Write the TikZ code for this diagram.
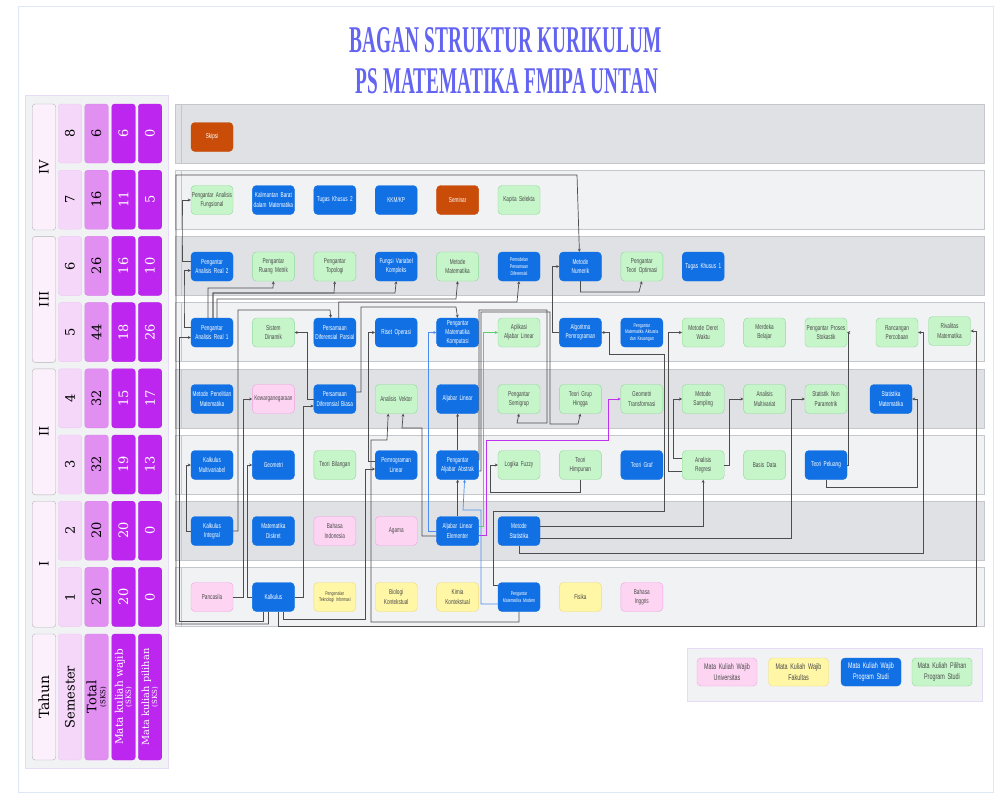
\documentclass[tikz,border=0pt]{standalone}
\usepackage{fontspec}
\usepackage{graphicx}
\usetikzlibrary{arrows.meta,positioning}
\newfontfamily\crsfont[FakeStretch=0.66]{Liberation Sans}
\newfontfamily\tblfont{DejaVu Serif}
\newfontfamily\ttlfont{Liberation Serif}
\newcommand{\crs}{\crsfont\fontsize{7.1}{9.2}\selectfont}
\newcommand{\crss}{\crsfont\fontsize{5.4}{6.8}\selectfont}
\newcommand{\crsl}{\crsfont\fontsize{8.2}{11}\selectfont}
\definecolor{prodiblue}{HTML}{1170E4}
\definecolor{pilgreen}{HTML}{C6F5C9}
\definecolor{pilgreenb}{HTML}{8FD99A}
\definecolor{univpink}{HTML}{FDD5F3}
\definecolor{univpinkb}{HTML}{EFA3E0}
\definecolor{fakyellow}{HTML}{FFF6A6}
\definecolor{fakyellowb}{HTML}{EEDC78}
\definecolor{akhirorange}{HTML}{C94D09}
\definecolor{txtgray}{HTML}{4A4A4A}
\definecolor{linkgray}{HTML}{4D4D4D}
\definecolor{banddark}{HTML}{DFE1E5}
\definecolor{bandlight}{HTML}{F1F2F4}
\definecolor{bandline}{HTML}{C4C7CC}
\definecolor{thnfill}{HTML}{FCF0FD}
\definecolor{thnline}{HTML}{B4B4B4}
\definecolor{semfill}{HTML}{F5D8F9}
\definecolor{semline}{HTML}{EFC6F5}
\definecolor{totfill}{HTML}{E190F2}
\definecolor{totline}{HTML}{DA7EEA}
\definecolor{wjfill}{HTML}{BD26EF}
\definecolor{wjline}{HTML}{B21FE6}
\definecolor{ttlblue}{HTML}{6464F2}
\definecolor{lblue}{HTML}{4B8EF0}
\definecolor{lgreen}{HTML}{5CCF6A}
\definecolor{lmag}{HTML}{C030F0}
\definecolor{framebl}{HTML}{DCE8F5}
\definecolor{panelline}{HTML}{E6DCF6}

\begin{document}
\begin{tikzpicture}[x=1pt,y=-1pt,
  node distance=19pt,
  course/.style={draw,rounded corners=4pt,align=center,text width=46pt,inner xsep=-2pt,inner ysep=2pt,minimum height=29pt,font=\crs,text=txtgray},
  prodi/.style={course,fill=prodiblue,draw=prodiblue,text=white},
  pilihan/.style={course,fill=pilgreen,draw=pilgreenb},
  univ/.style={course,fill=univpink,draw=univpinkb},
  fak/.style={course,fill=fakyellow,draw=fakyellowb},
  akhir/.style={course,fill=akhirorange,draw=akhirorange,text=white},
  legend/.style={text width=64pt,inner xsep=-2pt,minimum height=28pt,font=\crsl},
  link/.style={-{Stealth[length=3pt,width=3pt]},draw=linkgray,line width=0.7pt},
  band/.style={draw=bandline,line width=0.6pt},
  cell/.style={rounded corners=3pt,rotate=90,minimum width=59pt,minimum height=23.5pt,inner sep=0pt,align=center,font=\tblfont\fontsize{13}{14}\selectfont},
  hcell/.style={cell,minimum width=126pt}
]
\useasboundingbox (0,0) rectangle (1000,800);
\fill[white] (0,0) rectangle (1000,800);
\draw[framebl,line width=0.6pt] (18,6) rectangle (993,792);

% judul
\node[text=ttlblue,inner sep=0pt] (judul1) at (506,40.5) {\resizebox{312pt}{25pt}{\ttlfont\bfseries BAGAN STRUKTUR KURIKULUM}};
\node[text=ttlblue,inner sep=0pt] (judul2) at (507,81) {\resizebox{302pt}{25pt}{\ttlfont\bfseries PS MATEMATIKA FMIPA UNTAN}};

% tabel kiri
\draw[panelline,fill=bandlight] (25,95) rectangle (168,768);
\foreach \t/\k in {IV/0,III/1,II/2,I/3}{
  \node[hcell,fill=thnfill,draw=thnline] (thn\k) at (44,{167+\k*132.4}) {\t};
}
\foreach \s/\tot/\wj/\pil [count=\k] in {8/6/6/0,7/16/11/5,6/26/16/10,5/44/18/26,4/32/15/17,3/32/19/13,2/20/20/0,1/20/20/0}{
  \pgfmathsetmacro{\cy}{133.5+(\k-1)*66.2}
  \node[cell,fill=semfill,draw=semline] (sem\s) at (70,\cy) {\s};
  \node[cell,fill=totfill,draw=totline] (tot\s) at (96.5,\cy) {\tot};
  \node[cell,fill=wjfill,draw=wjline,text=white] (wj\s) at (123.5,\cy) {\wj};
  \node[cell,fill=wjfill,draw=wjline,text=white] (pil\s) at (150,\cy) {\pil};
}
\node[hcell,fill=thnfill,draw=thnline,font=\tblfont\fontsize{14}{15}\selectfont] (hthn) at (44,697) {Tahun};
\node[hcell,fill=semfill,draw=semline] (hsem) at (70,697) {Semester};
\node[hcell,fill=totfill,draw=totline,font=\tblfont\fontsize{13}{9}\selectfont] (htot) at (96.5,697) {Total\\{\fontsize{7}{7}\selectfont (SKS)}};
\node[hcell,fill=wjfill,draw=wjline,text=white,font=\tblfont\fontsize{10.5}{8}\selectfont] (hwj) at (123.5,697) {Mata kuliah wajib\\{\fontsize{7}{7}\selectfont (SKS)}};
\node[hcell,fill=wjfill,draw=wjline,text=white,font=\tblfont\fontsize{9.8}{8}\selectfont] (hpil) at (150,697) {Mata kuliah pilihan\\{\fontsize{7}{7}\selectfont (SKS)}};

% lajur semester
\foreach \s/\col [count=\k] in {8/banddark,7/bandlight,6/banddark,5/bandlight,4/banddark,3/bandlight,2/banddark,1/bandlight}{
  \pgfmathsetmacro{\by}{104+(\k-1)*66.2}
  \draw[band,fill=\col] (175,\by) rectangle (984,\by+59);
  \draw[band] (181,\by) -- (181,\by+59);
}

% semester 8
\node[akhir] (skr) at (212,137) {Skipsi};
% semester 7
\node[pilihan] (paf) at (212,200) {Pengantar Analisis\\Fungsional};
\node[prodi,right=of paf] (kbm) {Kalimantan Barat\\dalam Matematika};
\node[prodi,right=of kbm] (tk2) {Tugas Khusus 2};
\node[prodi,right=of tk2] (kkm) {KKM/KP};
\node[akhir,right=of kkm] (smn) {Seminar};
\node[pilihan,right=of smn] (kps) {Kapita Selekta};
% semester 6
\node[prodi] (par2) at (212,266.5) {Pengantar\\Analisis Real 2};
\node[pilihan,right=of par2] (prm) {Pengantar\\Ruang Metrik};
\node[pilihan,right=of prm] (ptop) {Pengantar\\Topologi};
\node[prodi,right=of ptop] (fvk) {Fungsi Variabel\\Kompleks};
\node[pilihan,right=of fvk] (mmat) {Metode\\Matematika};
\node[prodi,right=of mmat,font=\crss] (ppd) {Pemodelan\\Persamaan\\Diferensial};
\node[prodi,right=of ppd] (mnum) {Metode\\Numerik};
\node[pilihan,right=of mnum] (pto) {Pengantar\\Teori Optimasi};
\node[prodi,right=of pto] (tk1) {Tugas Khusus 1};
% semester 5
\node[prodi] (par1) at (212,332.5) {Pengantar\\Analisis Real 1};
\node[pilihan,right=of par1] (sdin) {Sistem\\Dinamik};
\node[prodi,right=of sdin] (pdp) {Persamaan\\Diferensial Parsial};
\node[prodi,right=of pdp] (ro) {Riset Operasi};
\node[prodi,right=of ro] (pmk) {Pengantar\\Matematika\\Komputasi};
\node[pilihan,right=of pmk] (aal) {Aplikasi\\Aljabar Linear};
\node[prodi,right=of aal] (alp) {Algoritma\\Pemrograman};
\node[prodi,right=of alp,font=\crss] (pmak) {Pengantar\\Matematika Aktuaria\\dan Keuangan};
\node[pilihan,right=of pmak] (mdw) {Metode Deret\\Waktu};
\node[pilihan,right=of mdw] (mbel) {Merdeka\\Belajar};
\node[pilihan,right=of mbel] (pps) {Pengantar Proses\\Stokastik};
\node[pilihan] (rp) at (897,332.5) {Rancangan\\Percobaan};
\node[pilihan] (rivm) at (949.5,331) {Rivalitas\\Matematika};
% semester 4
\node[prodi] (mpm) at (212,399) {Metode Penelitian\\Matematika};
\node[univ,right=of mpm] (kew) {Kewarganegaraan};
\node[prodi,right=of kew] (pdb) {Persamaan\\Diferensial Biasa};
\node[pilihan,right=of pdb] (av) {Analisis Vektor};
\node[prodi,right=of av] (al) {Aljabar Linear};
\node[pilihan,right=of al] (psg) {Pengantar\\Semigrup};
\node[pilihan,right=of psg] (tgh) {Teori Grup\\Hingga};
\node[pilihan,right=of tgh] (gt) {Geometri\\Transformasi};
\node[pilihan,right=of gt] (msam) {Metode\\Sampling};
\node[pilihan,right=of msam] (amv) {Analisis\\Multivariat};
\node[pilihan,right=of amv] (snp) {Statistik Non\\Parametrik};
\node[prodi] (smat) at (891,399) {Statistika\\Matematika};
% semester 3
\node[prodi] (kmul) at (212,465) {Kalkulus\\Multivariabel};
\node[prodi,right=of kmul] (geo) {Geometri};
\node[pilihan,right=of geo] (tbil) {Teori Bilangan};
\node[prodi,right=of tbil] (pl) {Pemrograman\\Linear};
\node[prodi,right=of pl] (paa) {Pengantar\\Aljabar Abstrak};
\node[pilihan,right=of paa] (lf) {Logika Fuzzy};
\node[pilihan,right=of lf] (th) {Teori\\Himpunan};
\node[prodi,right=of th] (tgraf) {Teori Graf};
\node[pilihan,right=of tgraf] (ar) {Analisis\\Regresi};
\node[pilihan,right=of ar] (bd) {Basis Data};
\node[prodi,right=of bd] (tp) {Teori Peluang};
% semester 2
\node[prodi] (kint) at (212,531) {Kalkulus\\Integral};
\node[prodi,right=of kint] (mdis) {Matematika\\Diskret};
\node[univ,right=of mdis] (bind) {Bahasa\\Indonesia};
\node[univ,right=of bind] (agm) {Agama};
\node[prodi,right=of agm] (ale) {Aljabar Linear\\Elementer};
\node[prodi,right=of ale] (mst) {Metode\\Statistika};
% semester 1
\node[univ] (pan) at (212,597) {Pancasila};
\node[prodi,right=of pan] (kalk) {Kalkulus};
\node[fak,right=of kalk,font=\crss] (pti) {Pengenalan\\Teknologi Informasi};
\node[fak,right=of pti] (bio) {Biologi\\Kontekstual};
\node[fak,right=of bio] (kim) {Kimia\\Kontekstual};
\node[prodi,right=of kim,font=\crss] (pmm) {Pengantar\\Matematika Modern};
\node[fak,right=of pmm] (fis) {Fisika};
\node[univ,right=of fis] (bing) {Bahasa\\Inggris};

% prasyarat
\draw[link] ([xshift=-10pt]kalk.south) |- (179,621) |- ([yshift=-5pt]par1.west);
\draw[link] ([xshift=-5pt]kalk.south) |- (176,624) |- (577,175) -- ([xshift=-1pt]mnum.north);
\draw[link] ([yshift=5pt]par1.west) -| (184,300) |- ([yshift=-4pt]par2.west);
\draw[link] ([yshift=5pt]par2.west) -| (182,230) |- (paf.west);
\draw[link] ([xshift=-4pt]par1.north) |- (273,288) -- (prm.south);
\draw[link] ([xshift=1pt]par1.north) |- (334,293) -- (ptop.south);
\draw[link] ([xshift=1pt]par1.north) |- (395,293) -- (fvk.south);
\draw[link] ([xshift=5pt]par1.north) |- (456,299) -- (mmat.south);
\draw[link] ([xshift=4pt]pdp.north) |- (517,302) -- (ppd.south);
\draw[link] (kint.east) -- (238,531) |- (330,310) -- ([xshift=-4pt]pdp.north);
\draw[link] (kalk.east) -- (303,597) |- ([yshift=-7pt]pdb.west);
\draw[link] (pdb.west) -- (307,399) |- (sdin.east);
\draw[link] ([yshift=7pt]pdb.east) -- (361,392) |- (456,307) -- (pmk.north);
\draw[link] ([yshift=4pt]pl.west) -- (368,461) |- (ro.west);
\draw[link] ([xshift=10pt]kalk.south) |- (365,619) |- ([yshift=-4pt]pl.west);
\draw[link] (pmm.south) |- (371,622) |- (387,440) -- ([xshift=-8pt]av.south);
\draw[link,draw=lblue] (ale.west) -- (428,531) |- (pmk.west);
\draw[link,draw=lblue] ([yshift=-7pt]pmm.west) -- (481,604) |- (463,510) -- ([xshift=7pt]paa.south);
\draw[link,draw=lgreen] ([yshift=5pt]ale.east) -- (483,526) |- (aal.west);
\draw[link,draw=lmag] ([yshift=-4pt]ale.east) -- (486,535) |- (608,440) |- (gt.west);
\draw[link] (ale.north) -- (paa.south);
\draw[link] (paa.north) -- (al.south);
\draw[link] ([yshift=-5pt]ale.west) -- (422,536) |- (402,428) -- ([xshift=7pt]av.south);
\draw[link] ([yshift=5pt]paa.east) -- (479,460) |- (547,310) |- (517,423) -- (psg.south);
\draw[link] ([yshift=-6pt]paa.east) -- (481,471) |- (550,312) |- (578,424) -- (tgh.south);
\draw[link] (th.south) |- (490,492) |- (lf.west);
\draw[link] (alp.west) -- (552,332.5) |- (mnum.west);
\draw[link] (mnum.south) |- (639,292) -- (pto.south);
\draw[link] ([yshift=12pt]pmm.west) -- (493,585) |- (664,511) |- (609,354) |- (alp.east);
\draw[link] ([yshift=-6pt]ar.west) -- (668,471) |- (mdw.west);
\draw[link] ([yshift=7pt]ar.west) -- (673,458) |- (msam.west);
\draw[link] (ar.east) -- (729,465) |- (amv.west);
\draw[link] ([yshift=5pt]mst.east) -| (ar.south);
\draw[link] ([yshift=-7pt]mst.east) -- (791,538) |- (snp.west);
\draw[link] (mst.south) |- (923,553) |- (rp.east);
\draw[link] (tp.east) -- (848,465) |- (pps.east);
\draw[link] (tp.south) |- (917,487) |- (smat.east);
\draw[link] ([xshift=5pt]kalk.south) |- (976,626) |- (rivm.east);
\draw[link] (kint.west) -- (186,531) |- (kmul.west);
\draw[link] (kalk.west) -- (247,597) |- (geo.west);
\draw[link] (pan.east) -- (243,597) |- (kew.west);

% keterangan
\draw[panelline,fill=bandlight] (687,648) rectangle (982,701);
\node[univ,legend] (kuniv) at (727,672) {Mata Kuliah Wajib\\Universitas};
\node[fak,legend] (kfak) at (798.5,672) {Mata Kuliah Wajib\\Fakultas};
\node[prodi,legend] (kprodi) at (871,672) {Mata Kuliah Wajib\\Program Studi};
\node[pilihan,legend] (kpil) at (942,672) {Mata Kuliah Pilihan\\Program Studi};
\end{tikzpicture}
\end{document}
